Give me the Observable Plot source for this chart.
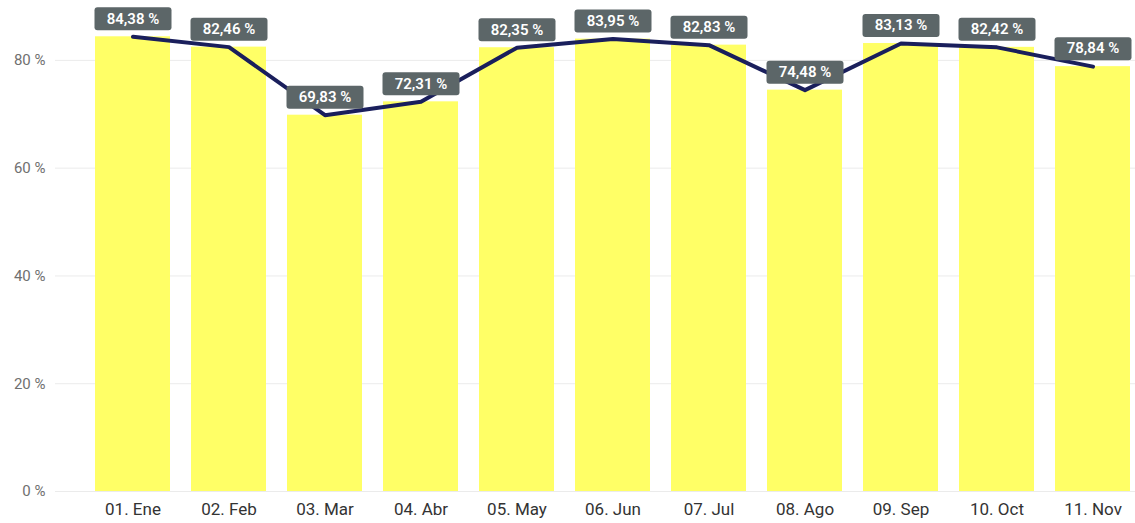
<!DOCTYPE html>
<html>
<head>
<meta charset="utf-8">
<script src="https://cdn.jsdelivr.net/npm/d3@7"></script>
<script src="https://cdn.jsdelivr.net/npm/@observablehq/plot@0.6"></script>
<style>
  html, body { margin: 0; padding: 0; background: #fff; }
  #chart svg { display: block; }
</style>
</head>
<body>
<div id="chart"></div>
<script>
const months = ["01. Ene", "02. Feb", "03. Mar", "04. Abr", "05. May", "06. Jun", "07. Jul", "08. Ago", "09. Sep", "10. Oct", "11. Nov"];
const values = [84.38, 82.46, 69.83, 72.31, 82.35, 83.95, 82.83, 74.48, 83.13, 82.42, 78.84];
const yTicks = [0, 20, 40, 60, 80];

const data = months.map((m, i) => ({month: m, value: values[i]}));
const fmtLabel = v => v.toFixed(2).replace(".", ",") + " %";

// rounded rectangle symbol for the data labels
const labelBox = {
  draw(ctx) {
    const w = 77, h = 23, r = 3;
    const x0 = -w / 2, y0 = -h / 2, x1 = w / 2, y1 = h / 2;
    ctx.moveTo(x0 + r, y0);
    ctx.lineTo(x1 - r, y0);
    ctx.arcTo(x1, y0, x1, y0 + r, r);
    ctx.lineTo(x1, y1 - r);
    ctx.arcTo(x1, y1, x1 - r, y1, r);
    ctx.lineTo(x0 + r, y1);
    ctx.arcTo(x0, y1, x0, y1 - r, r);
    ctx.lineTo(x0, y0 + r);
    ctx.arcTo(x0, y0, x0 + r, y0, r);
    ctx.closePath();
  }
};

const chart = Plot.plot({
  width: 1135,
  height: 523,
  marginLeft: 55,
  marginRight: 0,
  marginTop: 6,
  marginBottom: 32,
  style: {fontFamily: "Roboto, 'DejaVu Sans', sans-serif", background: "#fff"},
  x: {domain: months, range: [90.2, 1134.7], paddingInner: 0.22, paddingOuter: 0.05, label: null},
  y: {domain: [0, 90], label: null},
  marks: [
    Plot.ruleY(yTicks, {stroke: "#ebebeb", strokeWidth: 1}),
    Plot.barY(data, {x: "month", y: "value", fill: "#ffff66"}),
    Plot.lineY(data, {x: "month", y: "value", stroke: "#1a1f5c", strokeWidth: 4, strokeLinejoin: "round", strokeLinecap: "round"}),
    Plot.dot(data, {x: "month", y: "value", symbol: labelBox, fill: "#5c6668", stroke: "none", dy: -18}),
    Plot.text(data, {x: "month", y: "value", text: d => fmtLabel(d.value), dy: -18, fill: "#ffffff", fontSize: 15, fontWeight: 600, letterSpacing: "0.3px"}),
    Plot.axisY({ticks: yTicks, tickSize: 0, tickPadding: 10, tickFormat: d => d + " %", fontSize: 15, fill: "#707070"}),
    Plot.axisX({tickSize: 0, tickPadding: 11, fontSize: 17, fill: "#333", letterSpacing: "0.5px"})
  ]
});
document.getElementById("chart").appendChild(chart);
</script>
</body>
</html>
